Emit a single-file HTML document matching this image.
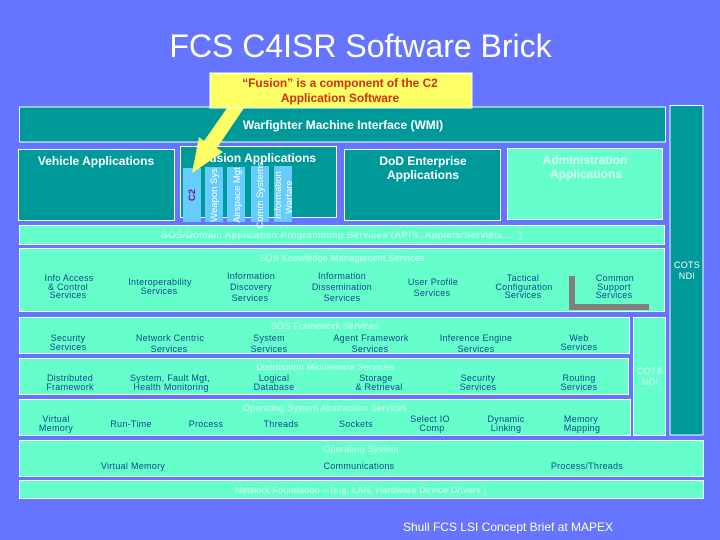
<!DOCTYPE html>
<html><head><meta charset="utf-8"><style>
html,body{margin:0;padding:0;background:#6675ff;width:720px;height:540px;overflow:hidden}
svg{display:block;font-family:"Liberation Sans",sans-serif}
.t{fill:#66ffcc;stroke:#fff;stroke-width:1}
.d{fill:#009999;stroke:#fff;stroke-width:1}
.c{fill:#66ccff}
text{text-anchor:middle}
.s{font-size:9px;letter-spacing:.28px;fill:#0b4a86}
.w{font-size:9px;letter-spacing:.22px;fill:#d4fff0}
.h{font-size:12px;font-weight:bold;fill:#fff}
.v{font-size:9.500px;fill:#fff}
</style></head><body>
<svg width="720" height="540" viewBox="0 0 720 540" xmlns="http://www.w3.org/2000/svg">
<rect width="720" height="540" fill="#6675ff"/>
<text x="360.500" y="57" font-size="32" fill="#fff">FCS C4ISR Software Brick</text>

<rect class="d" x="19.5" y="107" width="646" height="35"/>
<rect class="d" x="670" y="105.500" width="33" height="329.500"/>
<rect class="d" x="18.500" y="149.500" width="156" height="71"/>
<rect class="d" x="180.500" y="146.500" width="156" height="71"/>
<rect class="d" x="344.500" y="149.500" width="156" height="71"/>
<rect class="t" x="507.500" y="148.500" width="155" height="71"/>
<rect class="t" x="19.500" y="225.500" width="645" height="19"/>
<rect class="t" x="19.500" y="248.500" width="645" height="63"/>
<rect class="t" x="19.500" y="317.500" width="610" height="36"/>
<rect class="t" x="19.500" y="358.500" width="609" height="36"/>
<rect class="t" x="19.500" y="399.500" width="611" height="36"/>
<rect class="t" x="633.500" y="317.500" width="32" height="118"/>
<rect class="t" x="19.500" y="440.500" width="684" height="36"/>
<rect class="t" x="19.500" y="480.500" width="684" height="18"/>

<text class="h" x="96" y="165">Vehicle Applications</text>
<text class="h" x="259" y="162">Fusion Applications</text>
<text class="h" x="423" y="165">DoD Enterprise</text>
<text class="h" x="423" y="179">Applications</text>
<text class="h" x="585" y="164" style="fill:#d4fff0">Administration</text>
<text class="h" x="586" y="178" style="fill:#d4fff0">Applications</text>
<text class="h" x="343" y="129">Warfighter Machine Interface (WMI)</text>

<rect class="c" x="183" y="168" width="18" height="54"/>
<rect class="c" x="205" y="167" width="18" height="55"/>
<rect class="c" x="227" y="167" width="18" height="55"/>
<rect class="c" x="251" y="166" width="18" height="56"/>
<rect class="c" x="274" y="166" width="18" height="56"/>

<text transform="translate(195,195) rotate(-90)" font-size="9.500" font-weight="bold" fill="#7a1a6a">C2</text>
<text class="v" transform="translate(217,195) rotate(-90)">Weapon Sys</text>
<text class="v" transform="translate(240,195) rotate(-90)">Airspace Mgt</text>
<text class="v" transform="translate(263,195) rotate(-90)">Comm  Systems</text>
<text class="v" transform="translate(281,195) rotate(-90)">Information</text>
<text class="v" transform="translate(292,197) rotate(-90)">Warfare</text>

<polygon points="227,108 244,108 217,148 223,152 192,173 199,137 204,141" fill="#ffff66"/>
<rect x="210" y="73" width="262" height="35" fill="#ffff66" stroke="#fff"/>
<text x="340" y="87" font-size="11.900" font-weight="bold" fill="#d03010">“Fusion” is a component of the C2</text>
<text x="340" y="102" font-size="11.900" font-weight="bold" fill="#d03010">Application Software</text>

<text class="w" x="342" y="238" style="font-size:9.500px;letter-spacing:.55px">SOS/Domain Application Programming Services (API’s,  Applets/Servlets,…  )</text>
<text class="w" x="342" y="261">SOS Knowledge Management Services</text>

<text class="s" x="69" y="281">Info Access</text>
<text class="s" x="68" y="290">&amp; Control</text>
<text class="s" x="68" y="298">Services</text>
<text class="s" x="160" y="285">Interoperability</text>
<text class="s" x="159" y="294">Services</text>
<text class="s" x="251" y="279">Information</text>
<text class="s" x="251" y="290">Discovery</text>
<text class="s" x="250" y="301">Services</text>
<text class="s" x="342" y="279">Information</text>
<text class="s" x="342" y="290">Dissemination</text>
<text class="s" x="342" y="301">Services</text>
<text class="s" x="433" y="285">User Profile</text>
<text class="s" x="432" y="296">Services</text>
<text class="s" x="523" y="281">Tactical</text>
<text class="s" x="524" y="290">Configuration</text>
<text class="s" x="523" y="298">Services</text>
<text class="s" x="615" y="281">Common</text>
<text class="s" x="614" y="290">Support</text>
<text class="s" x="614" y="298">Services</text>
<polygon points="569,276 575,276 575,304 649,304 649,310 569,310" fill="#808080"/>

<text class="w" x="325" y="329">SOS Framework Services</text>
<text class="s" x="68" y="341">Security</text>
<text class="s" x="68" y="350">Services</text>
<text class="s" x="170" y="341">Network Centric</text>
<text class="s" x="169" y="352">Services</text>
<text class="s" x="269" y="341">System</text>
<text class="s" x="269" y="352">Services</text>
<text class="s" x="371" y="341">Agent Framework</text>
<text class="s" x="370" y="352">Services</text>
<text class="s" x="476" y="341">Inference Engine</text>
<text class="s" x="476" y="352">Services</text>
<text class="s" x="579" y="341">Web</text>
<text class="s" x="579" y="350">Services</text>

<text class="w" x="325" y="370">Distribution Middleware Services</text>
<text class="s" x="70" y="381">Distributed</text>
<text class="s" x="70" y="390">Framework</text>
<text class="s" x="170" y="381">System, Fault Mgt,</text>
<text class="s" x="171" y="390">Health Monitoring</text>
<text class="s" x="274" y="381">Logical</text>
<text class="s" x="274" y="390">Database</text>
<text class="s" x="376" y="381">Storage</text>
<text class="s" x="379" y="390">&amp; Retrieval</text>
<text class="s" x="478" y="381">Security</text>
<text class="s" x="478" y="390">Services</text>
<text class="s" x="579" y="381">Routing</text>
<text class="s" x="579" y="390">Services</text>

<text class="w" x="325" y="411">Operating System Abstraction Services</text>
<text class="s" x="56" y="422">Virtual</text>
<text class="s" x="56" y="431">Memory</text>
<text class="s" x="131" y="427">Run-Time</text>
<text class="s" x="206" y="427">Process</text>
<text class="s" x="281" y="427">Threads</text>
<text class="s" x="356" y="427">Sockets</text>
<text class="s" x="430" y="422">Select IO</text>
<text class="s" x="432" y="431">Comp</text>
<text class="s" x="506" y="422">Dynamic</text>
<text class="s" x="506" y="431">Linking</text>
<text class="s" x="581" y="422">Memory</text>
<text class="s" x="582" y="431">Mapping</text>

<text class="w" x="361" y="452">Operating System</text>
<text class="s" x="133" y="469">Virtual Memory</text>
<text class="s" x="359" y="469">Communications</text>
<text class="s" x="587" y="469">Process/Threads</text>
<text class="w" x="361" y="493">Network Foundation – (e.g, LAN, Hardware Device Drivers )</text>

<text x="687" y="268" font-size="9" letter-spacing=".3" fill="#fff">COTS</text>
<text x="687" y="279" font-size="9" letter-spacing=".3" fill="#fff">NDI</text>
<text class="w" x="650" y="374">COTS</text>
<text class="w" x="650" y="385">NDI</text>

<text x="508" y="531" font-size="12" fill="#fff">Shull FCS LSI Concept Brief at MAPEX</text>
</svg>
</body></html>
